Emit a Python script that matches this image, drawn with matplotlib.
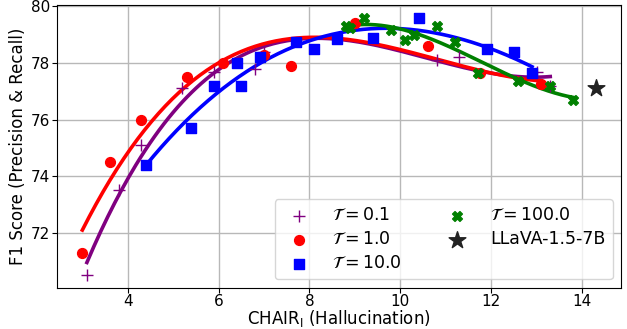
import numpy as np
import matplotlib.pyplot as plt

# data
t01_x = [3.1, 3.8, 4.3, 5.2, 5.9, 6.8, 7.0, 10.8, 11.3, 13.0, 13.3]
t01_y = [70.5, 73.5, 75.1, 77.1, 77.7, 77.8, 78.4, 78.1, 78.2, 77.7, 77.2]

t1_x = [3.0, 3.6, 4.3, 5.3, 6.1, 7.0, 7.6, 9.0, 10.6, 11.75, 13.1]
t1_y = [71.3, 74.5, 76.0, 77.5, 78.0, 78.3, 77.9, 79.4, 78.6, 77.65, 77.25]

t10_x = [4.4, 5.4, 5.9, 6.4, 6.5, 6.9, 7.7, 8.1, 8.6, 9.4, 10.4, 11.9, 12.5, 12.9]
t10_y = [74.4, 75.7, 77.2, 78.0, 77.2, 78.2, 78.75, 78.5, 78.85, 78.9, 79.6, 78.5, 78.4, 77.65]

t100_x = [8.8, 8.9, 9.2, 9.8, 10.1, 10.3, 10.8, 11.2, 11.7, 12.6, 13.3, 13.8]
t100_y = [79.3, 79.25, 79.6, 79.15, 78.8, 79.0, 79.3, 78.75, 77.65, 77.35, 77.2, 76.7]

base_x = [14.3]
base_y = [77.1]

plt.rcParams["font.size"] = 11

fig = plt.figure(figsize=(6.27, 3.29), dpi=100)
ax = fig.add_axes([0.0904, 0.1246, 0.9006, 0.8602])

series = [
    (t01_x, t01_y, "purple", "+", r"$\mathcal{T}=0.1$", 70),
    (t1_x, t1_y, "red", "o", r"$\mathcal{T}=1.0$", 50),
    (t10_x, t10_y, "blue", "s", r"$\mathcal{T}=10.0$", 50),
    (t100_x, t100_y, "green", "X", r"$\mathcal{T}=100.0$", 50),
]

for xs, ys, color, marker, label, size in series:
    xs = np.array(xs)
    ys = np.array(ys)
    if marker == "+":
        ax.scatter(xs, ys, color=color, marker=marker, s=size, linewidths=1.0, label=label, zorder=3)
    else:
        ax.scatter(xs, ys, color=color, marker=marker, s=size, label=label, zorder=3)
    # cubic trend line through each series
    coef = np.polyfit(xs, ys, 3)
    xx = np.linspace(xs.min(), xs.max(), 200)
    ax.plot(xx, np.polyval(coef, xx), color=color, lw=2.6, zorder=2)

ax.scatter(base_x, base_y, color="#222222", marker="*", s=160, label="LLaVA-1.5-7B", zorder=3)

ax.set_xlim(2.435, 14.865)
ax.set_ylim(70.05, 80.05)
ax.set_yticks([72, 74, 76, 78, 80])
ax.tick_params(labelsize=11, pad=1)
ax.grid(True, color="#b8b8b8", lw=1)
ax.set_axisbelow(True)

ax.set_xlabel(r"CHAIR$_\mathrm{I}$ (Hallucination)", fontsize=12, labelpad=-1)
ax.set_ylabel("F1 Score (Precision & Recall)", fontsize=12, labelpad=3)

ax.legend(loc="lower right", ncol=2, fontsize=12.5, labelspacing=0.35,
          columnspacing=2.2, handletextpad=0.9, borderaxespad=0.5)

fig.savefig("out.png", dpi=100)
